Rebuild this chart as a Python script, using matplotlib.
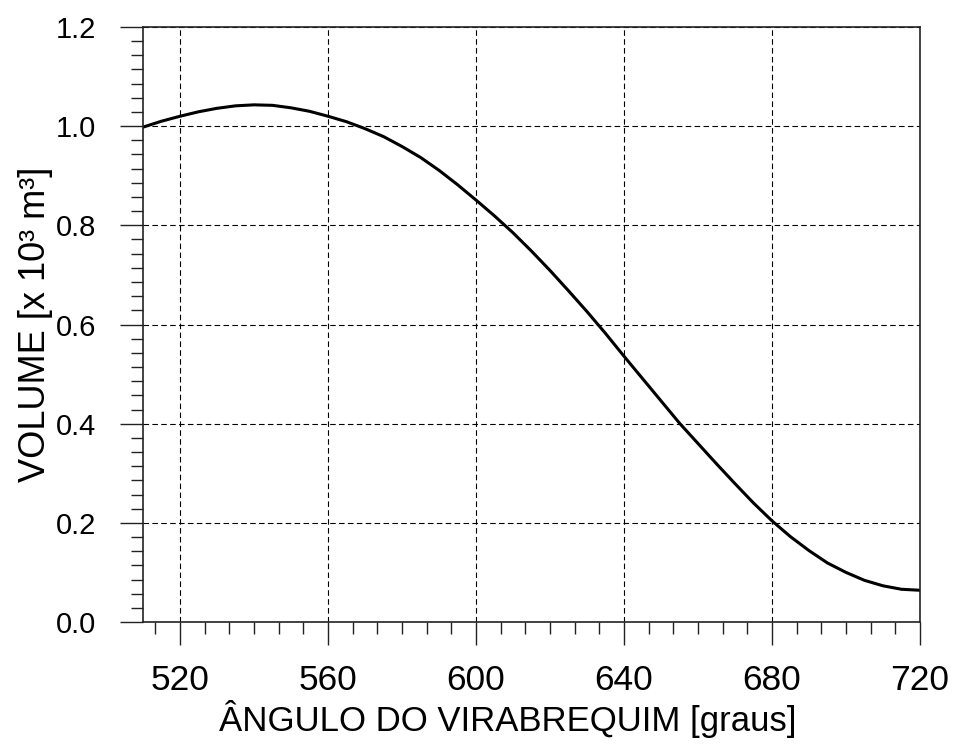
import matplotlib
matplotlib.use("Agg")
import matplotlib.pyplot as plt
from matplotlib.ticker import MultipleLocator, FixedLocator

plt.rcParams['font.family'] = ['Liberation Sans', 'DejaVu Sans']

angle = [510, 515, 520, 525, 530, 535, 540, 545, 550, 555, 560, 565, 570, 575,
         580, 585, 590, 595, 600, 605, 610, 615, 620, 625, 630, 635, 640, 645,
         650, 655, 660, 665, 670, 675, 680, 685, 690, 695, 700, 705, 710, 715,
         720]
volume = [0.998, 1.010, 1.020, 1.029, 1.036, 1.041, 1.043, 1.042, 1.037, 1.030,
          1.020, 1.009, 0.995, 0.979, 0.959, 0.937, 0.911, 0.882, 0.851, 0.819,
          0.785, 0.748, 0.709, 0.668, 0.626, 0.582, 0.536, 0.491, 0.446, 0.401,
          0.360, 0.319, 0.279, 0.240, 0.204, 0.172, 0.144, 0.119, 0.100, 0.084,
          0.073, 0.066, 0.064]

xticks = [520, 560, 600, 640, 680, 720]
yticks = [0.0, 0.2, 0.4, 0.6, 0.8, 1.0, 1.2]
xlabel = "ÂNGULO DO VIRABREQUIM [graus]"
ylabel = "VOLUME [x 10³ m³]"

fig = plt.figure(figsize=(9.54, 7.49), dpi=100)
ax = fig.add_axes([143/954, 1-622/749, (920-143)/954, (622-27)/749])

ax.plot(angle, volume, color='black', lw=2.2)

ax.set_xlim(510, 720)
ax.set_ylim(0, 1.2)
ax.xaxis.set_major_locator(FixedLocator(xticks))
ax.yaxis.set_major_locator(FixedLocator(yticks))
ax.xaxis.set_minor_locator(MultipleLocator(20/3))
ax.yaxis.set_minor_locator(MultipleLocator(0.2/7))
ax.set_yticklabels([f"{v:.1f}" for v in yticks])
ax.set_xticklabels([str(v) for v in xticks])

ax.grid(True, which='major', color='black', lw=0.8, linestyle=(0, (5, 3)))

for s in ax.spines.values():
    s.set_linewidth(1.2)
    s.set_color('#222222')

ax.tick_params(axis='both', which='major', direction='out', length=16.5,
               width=1.0, color='#222222')
ax.tick_params(axis='both', which='minor', direction='out', length=8.6,
               width=1.0, color='#222222')
ax.tick_params(axis='y', which='major', labelsize=21, pad=17)
ax.tick_params(axis='x', which='major', labelsize=25.5, pad=14)
ax.tick_params(top=False, right=False, which='both')

ax.set_xlabel(xlabel, fontsize=25, labelpad=2, x=0.47)
ax.set_ylabel(ylabel, fontsize=26, labelpad=2)

fig.savefig("out.png", dpi=100)
